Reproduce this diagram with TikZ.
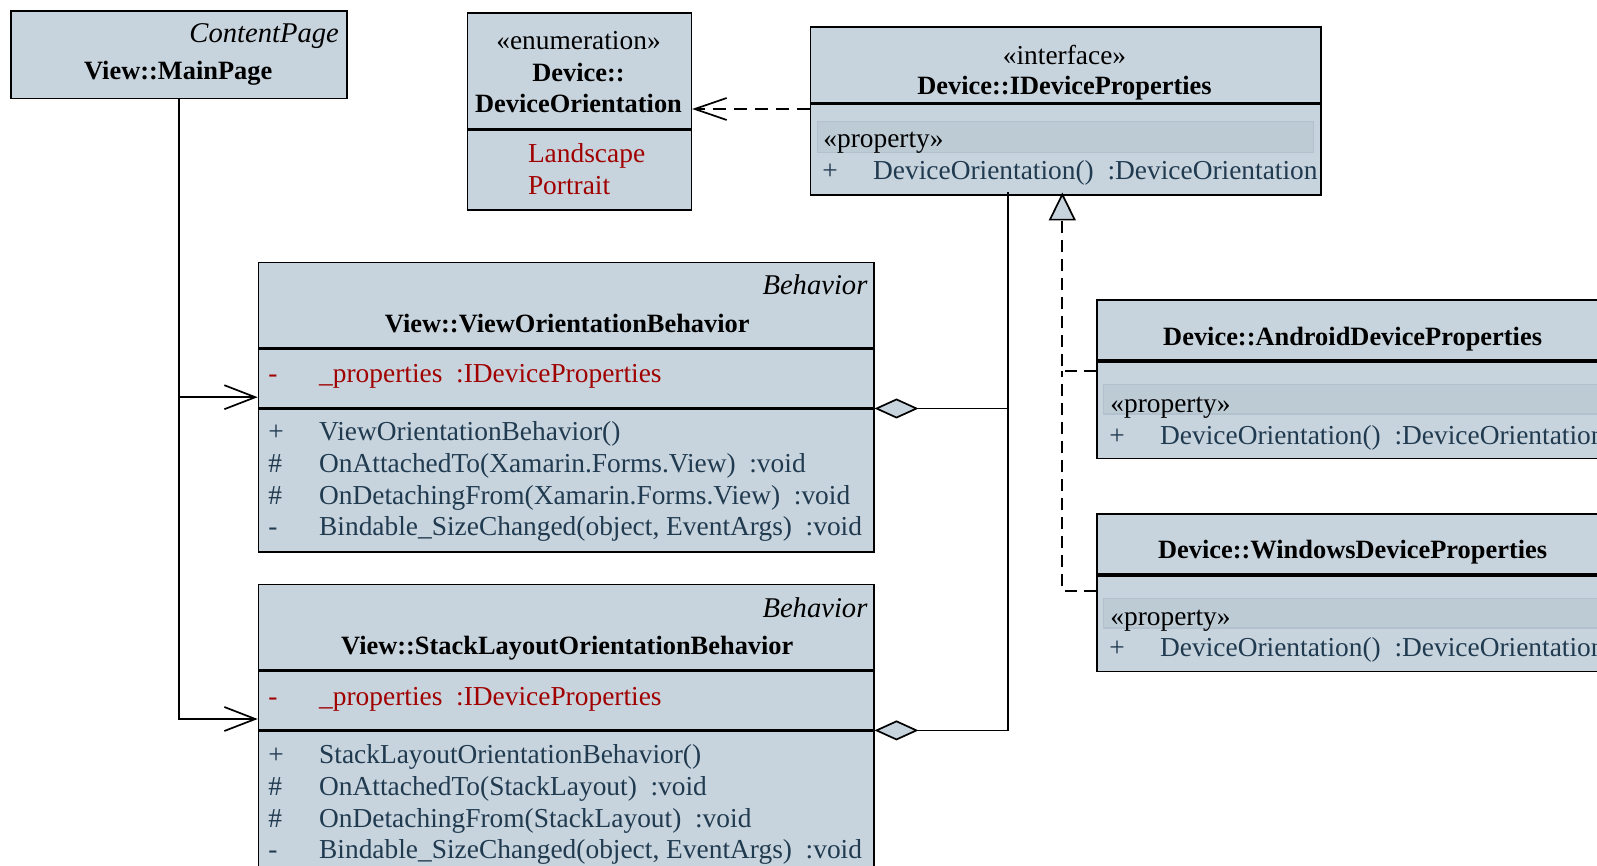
\documentclass[tikz,border=0pt]{standalone}
\usepackage{fontspec}
\setmainfont{Liberation Serif}
\usetikzlibrary{arrows.meta, positioning}
\definecolor{classfill}{RGB}{200,212,221}
\definecolor{bandfill}{RGB}{189,203,213}
\definecolor{bandline}{RGB}{178,193,205}
\definecolor{attrred}{RGB}{160,0,0}
\definecolor{opblue}{RGB}{32,58,80}
\newcommand{\umlvis}[1]{\makebox[25.4pt][l]{#1}}
\newcommand{\umlname}{\fontsize{13.2}{15.6}\selectfont\bfseries}
\newcommand{\umlbase}{\fontsize{14.3}{15.6}\selectfont\itshape}

\begin{document}
\begin{tikzpicture}[x=0.5pt, y=-0.5pt, font=\fontsize{13.7}{15.6}\selectfont,
  umlbox/.style={draw, line width=0.8pt, fill=classfill, inner sep=0pt, anchor=north west},
  umlband/.style={draw=bandline, line width=0.6pt, fill=bandfill, inner sep=0pt, anchor=north west},
  lbl/.style={inner sep=0pt, anchor=mid, yshift=-2.3pt},
  lblw/.style={inner sep=0pt, anchor=mid west, yshift=-2.3pt},
  lble/.style={inner sep=0pt, anchor=mid east, yshift=-2.3pt},
  attr/.style={lblw, text=attrred},
  op/.style={lblw, text=opblue},
  assoc/.style={line width=0.85pt, -{Straight Barb[length=15.5pt, width=12pt]}},
  depend/.style={line width=0.85pt, dash pattern=on 6.5pt off 4pt, -{Straight Barb[length=16pt, width=11pt]}},
  aggr/.style={line width=0.85pt, {Diamond[length=22pt, width=10pt, fill=classfill]}-},
  realize/.style={line width=0.85pt, dash pattern=on 6pt off 3.5pt}]
  \useasboundingbox (0,0) rectangle (1597,866);

  % View::MainPage
  \node[umlbox, minimum width=168pt, minimum height=43.8pt] (mainpage) at (10.2,10.2) {};
  \node[lble] (mainpage-base) at (339.2,33.6) {\umlbase ContentPage};
  \node[lbl] (mainpage-name) at (178.2,70.3) {\umlname View::MainPage};

  % Device::DeviceOrientation
  \node[umlbox, minimum width=112pt, minimum height=58pt] (enum-head) at (466.5,12.2) {};
  \node[umlbox, minimum width=112pt, minimum height=39.75pt, below=0pt of enum-head] (enum-lit) {};
  \node[lbl] (enum-stereo) at (578.5,40.7) {«enumeration»};
  \node[lbl] (enum-name1) at (578.5,72.3) {\umlname Device::};
  \node[lbl] (enum-name2) at (578.5,102.9) {\umlname DeviceOrientation};
  \node[attr] (enum-lit1) at (527.6,153.8) {Landscape};
  \node[attr] (enum-lit2) at (527.6,185.4) {Portrait};

  % Device::IDeviceProperties
  \node[umlbox, minimum width=255.2pt, minimum height=37.7pt] (idev-head) at (809.7,26.5) {};
  \node[umlbox, minimum width=255.2pt, minimum height=45.3pt, below=0pt of idev-head] (idev-ops) {};
  \node[umlband, minimum width=248pt, minimum height=15.3pt] (idev-band) at (816.8,121.2) {};
  \node[lbl] (idev-stereo) at (1064.5,55) {«interface»};
  \node[lbl] (idev-name) at (1064.5,85.6) {\umlname Device::IDeviceProperties};
  \node[lblw] (idev-prop) at (823,138.5) {«property»};
  \node[op] (idev-op1) at (822,170) {\umlvis{+}DeviceOrientation()\enspace:DeviceOrientation};

  % View::ViewOrientationBehavior
  \node[umlbox, minimum width=307.6pt, minimum height=42.75pt] (view-head) at (257.7,261.8) {};
  \node[umlbox, minimum width=307.6pt, minimum height=29pt, below=0pt of view-head] (view-attr) {};
  \node[umlbox, minimum width=307.6pt, minimum height=71.3pt, below=0pt of view-attr] (view-ops) {};
  \node[lble] (view-base) at (867.8,285.2) {\umlbase Behavior};
  \node[lbl] (view-name) at (567.3,322.9) {\umlname View::ViewOrientationBehavior};
  \node[attr] (view-attr1) at (268,373.8) {\umlvis{-}\_properties\enspace:IDeviceProperties};
  \node[op] (view-op1) at (268,431.8) {\umlvis{+}ViewOrientationBehavior()};
  \node[op] (view-op2) at (268,463.4) {\umlvis{\#}OnAttachedTo(Xamarin.Forms.View)\enspace:void};
  \node[op] (view-op3) at (268,495) {\umlvis{\#}OnDetachingFrom(Xamarin.Forms.View)\enspace:void};
  \node[op] (view-op4) at (268,526.6) {\umlvis{-}Bindable\_SizeChanged(object, EventArgs)\enspace:void};

  % View::StackLayoutOrientationBehavior
  \node[umlbox, minimum width=307.6pt, minimum height=42.8pt] (stack-head) at (257.7,583.6) {};
  \node[umlbox, minimum width=307.6pt, minimum height=29pt, below=0pt of stack-head] (stack-attr) {};
  \node[umlbox, minimum width=307.6pt, minimum height=71.3pt, below=0pt of stack-attr] (stack-ops) {};
  \node[lble] (stack-base) at (867.8,608) {\umlbase Behavior};
  \node[lbl] (stack-name) at (567.3,645.7) {\umlname View::StackLayoutOrientationBehavior};
  \node[attr] (stack-attr1) at (268,696.7) {\umlvis{-}\_properties\enspace:IDeviceProperties};
  \node[op] (stack-op1) at (268,754.7) {\umlvis{+}StackLayoutOrientationBehavior()};
  \node[op] (stack-op2) at (268,786.3) {\umlvis{\#}OnAttachedTo(StackLayout)\enspace:void};
  \node[op] (stack-op3) at (268,817.9) {\umlvis{\#}OnDetachingFrom(StackLayout)\enspace:void};
  \node[op] (stack-op4) at (268,849.4) {\umlvis{-}Bindable\_SizeChanged(object, EventArgs)\enspace:void};

  % Device::AndroidDeviceProperties
  \node[umlbox, minimum width=256pt, minimum height=30pt] (android-head) at (1095.9,299.4) {};
  \node[umlbox, minimum width=256pt, minimum height=48.4pt, below=0pt of android-head] (android-ops) {};
  \node[umlband, minimum width=249pt, minimum height=14.75pt] (android-band) at (1103,384) {};
  \node[lbl] (android-name) at (1352.6,336.1) {\umlname Device::AndroidDeviceProperties};
  \node[lblw] (android-prop) at (1110,403.3) {«property»};
  \node[op] (android-op1) at (1109,434.9) {\umlvis{+}DeviceOrientation()\enspace:DeviceOrientation};

  % Device::WindowsDeviceProperties
  \node[umlbox, minimum width=256pt, minimum height=30pt] (windows-head) at (1095.9,513.3) {};
  \node[umlbox, minimum width=256pt, minimum height=47.9pt, below=0pt of windows-head] (windows-ops) {};
  \node[umlband, minimum width=249pt, minimum height=14.75pt] (windows-band) at (1103,597.9) {};
  \node[lbl] (windows-name) at (1352.6,549) {\umlname Device::WindowsDeviceProperties};
  \node[lblw] (windows-prop) at (1110,616.2) {«property»};
  \node[op] (windows-op1) at (1109,647.8) {\umlvis{+}DeviceOrientation()\enspace:DeviceOrientation};

  % MainPage uses the behaviors
  \coordinate (view-in) at (257.7,397.2);
  \coordinate (stack-in) at (257.7,719);
  \draw[assoc] (mainpage.south) |- (view-in);
  \draw[assoc] (mainpage.south) |- (stack-in);

  % interface depends on the enumeration
  \coordinate (idev-out) at (809.7,109);
  \draw[depend] (idev-out) -- (enum-head.east |- idev-out);

  % behaviors hold the properties
  \coordinate (agg-top) at (1008.3,192.5);
  \draw[aggr] (view-attr.south east) -| (agg-top);
  \draw[aggr] (stack-attr.south east) -| (agg-top);

  % platform classes realize the interface
  \coordinate (real-top) at (1062.3,192.5);
  \coordinate (real-join) at (1062.3,370.7);
  \coordinate (android-in) at (1095.9,370.7);
  \coordinate (windows-in) at (1095.9,590.7);
  \draw[realize, -{Triangle[length=14pt, width=13.5pt, fill=classfill]}] (android-in) -| (real-top);
  \draw[realize] (windows-in) -| (real-join);
\end{tikzpicture}
\end{document}
